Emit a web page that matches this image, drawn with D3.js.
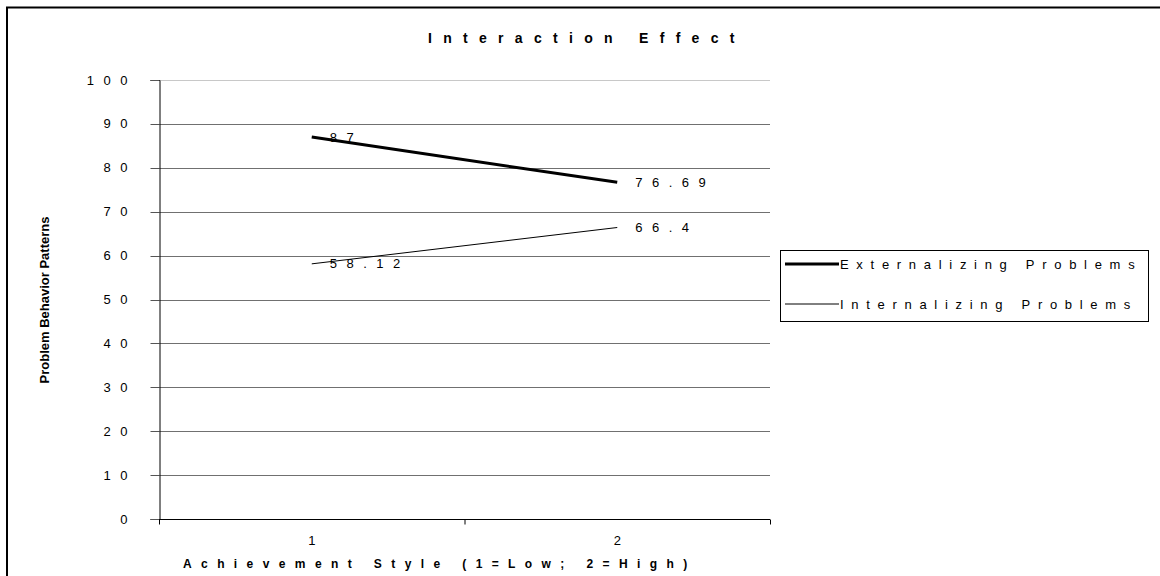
<!DOCTYPE html>
<html>
<head>
<meta charset="utf-8">
<script src="https://cdn.jsdelivr.net/npm/d3@7"></script>
<style>
  html, body { margin: 0; padding: 0; background: #fff; }
  svg { display: block; font-family: Arial, "Liberation Sans", sans-serif; }
</style>
</head>
<body>
<svg id="chart" width="1160" height="576"></svg>
<script>
const categories = ["1", "2"];
const seriesNames = ["Externalizing Problems", "Internalizing Problems"];
const externalizing = [87, 76.69];
const internalizing = [58.12, 66.4];
const externalizingLabels = ["87", "76.69"];
const internalizingLabels = ["58.12", "66.4"];
const yTicks = [0, 10, 20, 30, 40, 50, 60, 70, 80, 90, 100];

const svg = d3.select("#chart");
const W = 1160, H = 576;
const plot = { left: 159, right: 770, top: 80, bottom: 519 };

svg.append("rect").attr("width", W).attr("height", H).attr("fill", "#fff");
// outer chart border (extends past right/bottom edge)
svg.append("rect")
  .attr("x", 7).attr("y", 7.5).attr("width", W + 20).attr("height", H + 20)
  .attr("fill", "none").attr("stroke", "#000").attr("stroke-width", 2);

const x = d3.scaleBand().domain(categories).range([plot.left, plot.right]).padding(0);
const y = d3.scaleLinear().domain([0, 100]).range([plot.bottom, plot.top]);

// gridlines
svg.append("g").selectAll("line").data(yTicks.filter(d => d > 0)).join("line")
  .attr("x1", plot.left).attr("x2", plot.right)
  .attr("y1", d => Math.round(y(d)) + 0.5).attr("y2", d => Math.round(y(d)) + 0.5)
  .attr("stroke", d => d === 100 ? "#c8c8c8" : "#707070").attr("stroke-width", 1);

// y axis
const yAxis = d3.axisLeft(y).tickValues(yTicks).tickSize(9).tickPadding(0).tickFormat("");
const gy = svg.append("g").attr("transform", `translate(${plot.left + 0.5},0)`).call(yAxis);
gy.select(".domain").attr("stroke", "#000");
gy.selectAll(".tick line").attr("stroke", "#555");
gy.selectAll(".tick").attr("transform", d => `translate(0,${Math.round(y(d)) + 0.5})`);

// y tick labels
svg.append("g").selectAll("text").data(yTicks).join("text")
  .attr("x", 137).attr("y", d => y(d) + 4.5)
  .attr("text-anchor", "end")
  .attr("font-size", 13).attr("letter-spacing", 9.5)
  .attr("fill", "#000")
  .text(d => String(d));

// x axis
const xAxisScale = d3.scaleLinear().domain([0, 2]).range([plot.left, plot.right]);
const gx = svg.append("g").attr("transform", `translate(0,${plot.bottom + 0.5})`)
  .call(d3.axisBottom(xAxisScale).tickValues([0, 1, 2]).tickSize(5).tickFormat(""));
gx.select(".domain").attr("stroke", "#000").attr("d", `M${plot.left},0H${plot.right}`);
gx.selectAll(".tick line").attr("stroke", "#000");

// x tick labels
svg.append("g").selectAll("text").data(categories).join("text")
  .attr("x", d => x(d) + x.bandwidth() / 2).attr("y", 545)
  .attr("text-anchor", "middle").attr("font-size", 13).attr("fill", "#000")
  .text(d => d);

// lines
const line = d3.line().x((d, i) => x(categories[i]) + x.bandwidth() / 2).y(d => y(d));
svg.append("path").datum(externalizing).attr("d", line)
  .attr("fill", "none").attr("stroke", "#000").attr("stroke-width", 3);
svg.append("path").datum(internalizing).attr("d", line)
  .attr("fill", "none").attr("stroke", "#000").attr("stroke-width", 1);

// data labels
function labels(vals, texts) {
  svg.append("g").selectAll("text").data(vals).join("text")
    .attr("x", (d, i) => x(categories[i]) + x.bandwidth() / 2 + 18)
    .attr("y", d => y(d) + 4.5)
    .attr("font-size", 13).attr("letter-spacing", 9.5).attr("fill", "#000")
    .text((d, i) => texts[i]);
}
labels(externalizing, externalizingLabels);
labels(internalizing, internalizingLabels);

// title
svg.append("text").attr("x", 428).attr("y", 43)
  .attr("font-size", 14).attr("font-weight", "bold").attr("letter-spacing", 11.3)
  .text("Interaction Effect");

// x axis title
svg.append("text").attr("x", 183).attr("y", 568)
  .attr("font-size", 12).attr("font-weight", "bold").attr("letter-spacing", 9.4)
  .text("Achievement Style (1=Low; 2=High)");

// y axis title
svg.append("text").attr("transform", "translate(49,300) rotate(-90)")
  .attr("text-anchor", "middle").attr("font-size", 13).attr("font-weight", "bold")
  .text("Problem Behavior Patterns");

// legend
const lg = svg.append("g");
lg.append("rect").attr("x", 780.5).attr("y", 250.5).attr("width", 368).attr("height", 71)
  .attr("fill", "#fff").attr("stroke", "#000").attr("stroke-width", 1);
const legendRows = [
  { name: seriesNames[0], w: 3, y: 264 },
  { name: seriesNames[1], w: 1, y: 304 }
];
lg.selectAll("line").data(legendRows).join("line")
  .attr("x1", 785).attr("x2", 839).attr("y1", d => d.y).attr("y2", d => d.y)
  .attr("stroke", "#000").attr("stroke-width", d => d.w);
lg.selectAll("text").data(legendRows).join("text")
  .attr("x", 840).attr("y", d => d.y + 4.5)
  .attr("font-size", 13).attr("letter-spacing", 7.7).attr("fill", "#000")
  .text(d => d.name);
</script>
</body>
</html>
